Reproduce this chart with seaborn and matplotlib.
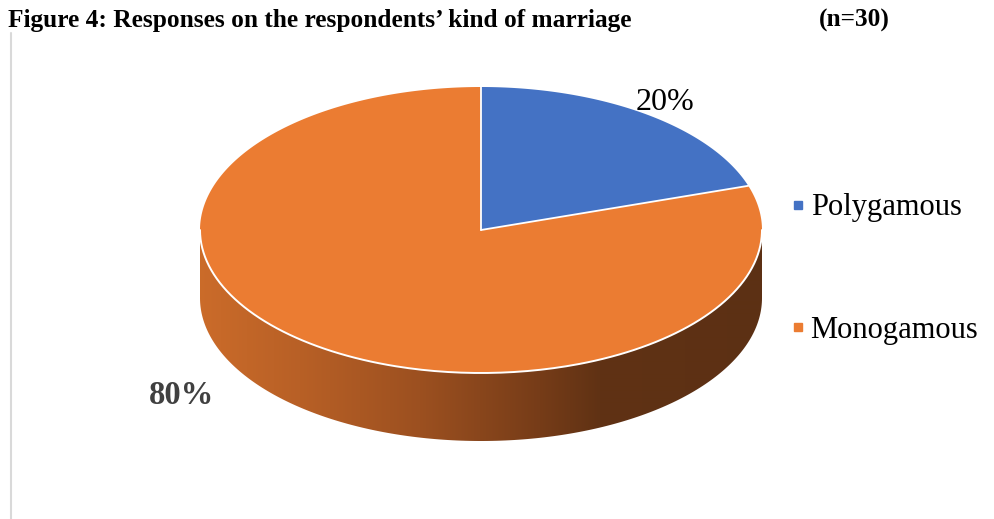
import numpy as np
import matplotlib
matplotlib.use("Agg")
import matplotlib.pyplot as plt
import seaborn as sns
from matplotlib.patches import Polygon
from matplotlib.lines import Line2D

# Data
categories = ["Polygamous", "Monogamous"]
shares = [20, 80]
value_labels = ["20%", "80%"]
title_text = "Figure 4: Responses on the respondents\u2019 kind of marriage"
n_text = "(n=30)"

sns.set_theme(style="white")
plt.rcParams["font.family"] = ["Liberation Serif", "DejaVu Serif"]
plt.rcParams["text.color"] = "black"
colors = sns.color_palette(["#4472C4", "#EB7C32"])

W, H = 995, 519
fig = plt.figure(figsize=(W / 100, H / 100), dpi=100)
ax = fig.add_axes([0, 0, 1, 1])
ax.set_xlim(0, W)
ax.set_ylim(H, 0)
ax.axis("off")

# pie geometry (screen units)
cx, cy, a, b, depth = 481, 230, 281, 143, 68


def rim(t_deg):
    t = np.radians(t_deg)
    return cx + a * np.cos(t), cy - b * np.sin(t)


# side wall (front half of the ellipse, extruded downwards)
t_front = np.linspace(180, 360, 200)
xt, yt = rim(t_front)
side_x = np.concatenate([xt, xt[::-1]])
side_y = np.concatenate([yt, yt[::-1] + depth])
side = Polygon(np.column_stack([side_x, side_y]), closed=True, facecolor="none", edgecolor="none")
ax.add_patch(side)

stops_x = [195, 300, 420, 540, 600, 770]
stops_c = np.array([
    [204, 108, 42],
    [184, 96, 38],
    [156, 80, 32],
    [118, 60, 24],
    [96, 50, 20],
    [92, 48, 20],
]) / 255.0
cols = np.arange(W) + 0.5
grad = np.stack([np.interp(cols, stops_x, stops_c[:, k]) for k in range(3)], axis=-1)
grad = np.repeat(grad[None, :, :], 2, axis=0)
img = ax.imshow(grad, extent=(0, W, H, 0), aspect="auto", interpolation="bilinear", zorder=1)
img.set_clip_path(side)

# top face slices, starting at 12 o'clock and running clockwise
start = 90.0
ends = []
for share, col in zip(shares, colors):
    sweep = 360.0 * share / sum(shares)
    ts = np.linspace(start, start - sweep, 300)
    px, py = rim(ts)
    poly = np.column_stack([np.r_[cx, px], np.r_[cy, py]])
    ax.add_patch(Polygon(poly, closed=True, facecolor=col, edgecolor="none", zorder=2))
    ends.append(start)
    start -= sweep

# white separators and front rim highlight
for t in ends:
    ex, ey = rim(t)
    ax.plot([cx, ex], [cy, ey], color="white", lw=1.3, zorder=3)
ax.plot(xt, yt, color="white", lw=1.4, zorder=3)

# value labels
ax.text(665, 103, value_labels[0], fontsize=23, color="black", ha="center", va="center", zorder=4)
ax.text(182, 395, value_labels[1], fontsize=23.5, fontweight="bold", color="#404040",
        ha="center", va="center", zorder=4)

# title and left rule
fig.text(8 / W, 1 - 20 / H, title_text, fontsize=18.3, fontweight="bold", ha="left", va="center")
fig.text(890 / W, 1 - 20 / H, n_text, fontsize=18.3, fontweight="bold", ha="right", va="center")
ax.plot([11, 11], [33, H], color="#D9D9D9", lw=1.5, zorder=0)

# legend
handles = [Line2D([0], [0], marker="s", linestyle="none", markersize=6,
                  markerfacecolor=c, markeredgecolor=c) for c in colors]
ax.legend(handles, categories, loc="center left", bbox_to_anchor=(777 / W, 1 - 269 / H),
          frameon=False, fontsize=22, handlelength=0.4, handletextpad=0.2,
          labelspacing=3.05, borderpad=0, labelcolor="black")

fig.savefig("out.png", dpi=100)
